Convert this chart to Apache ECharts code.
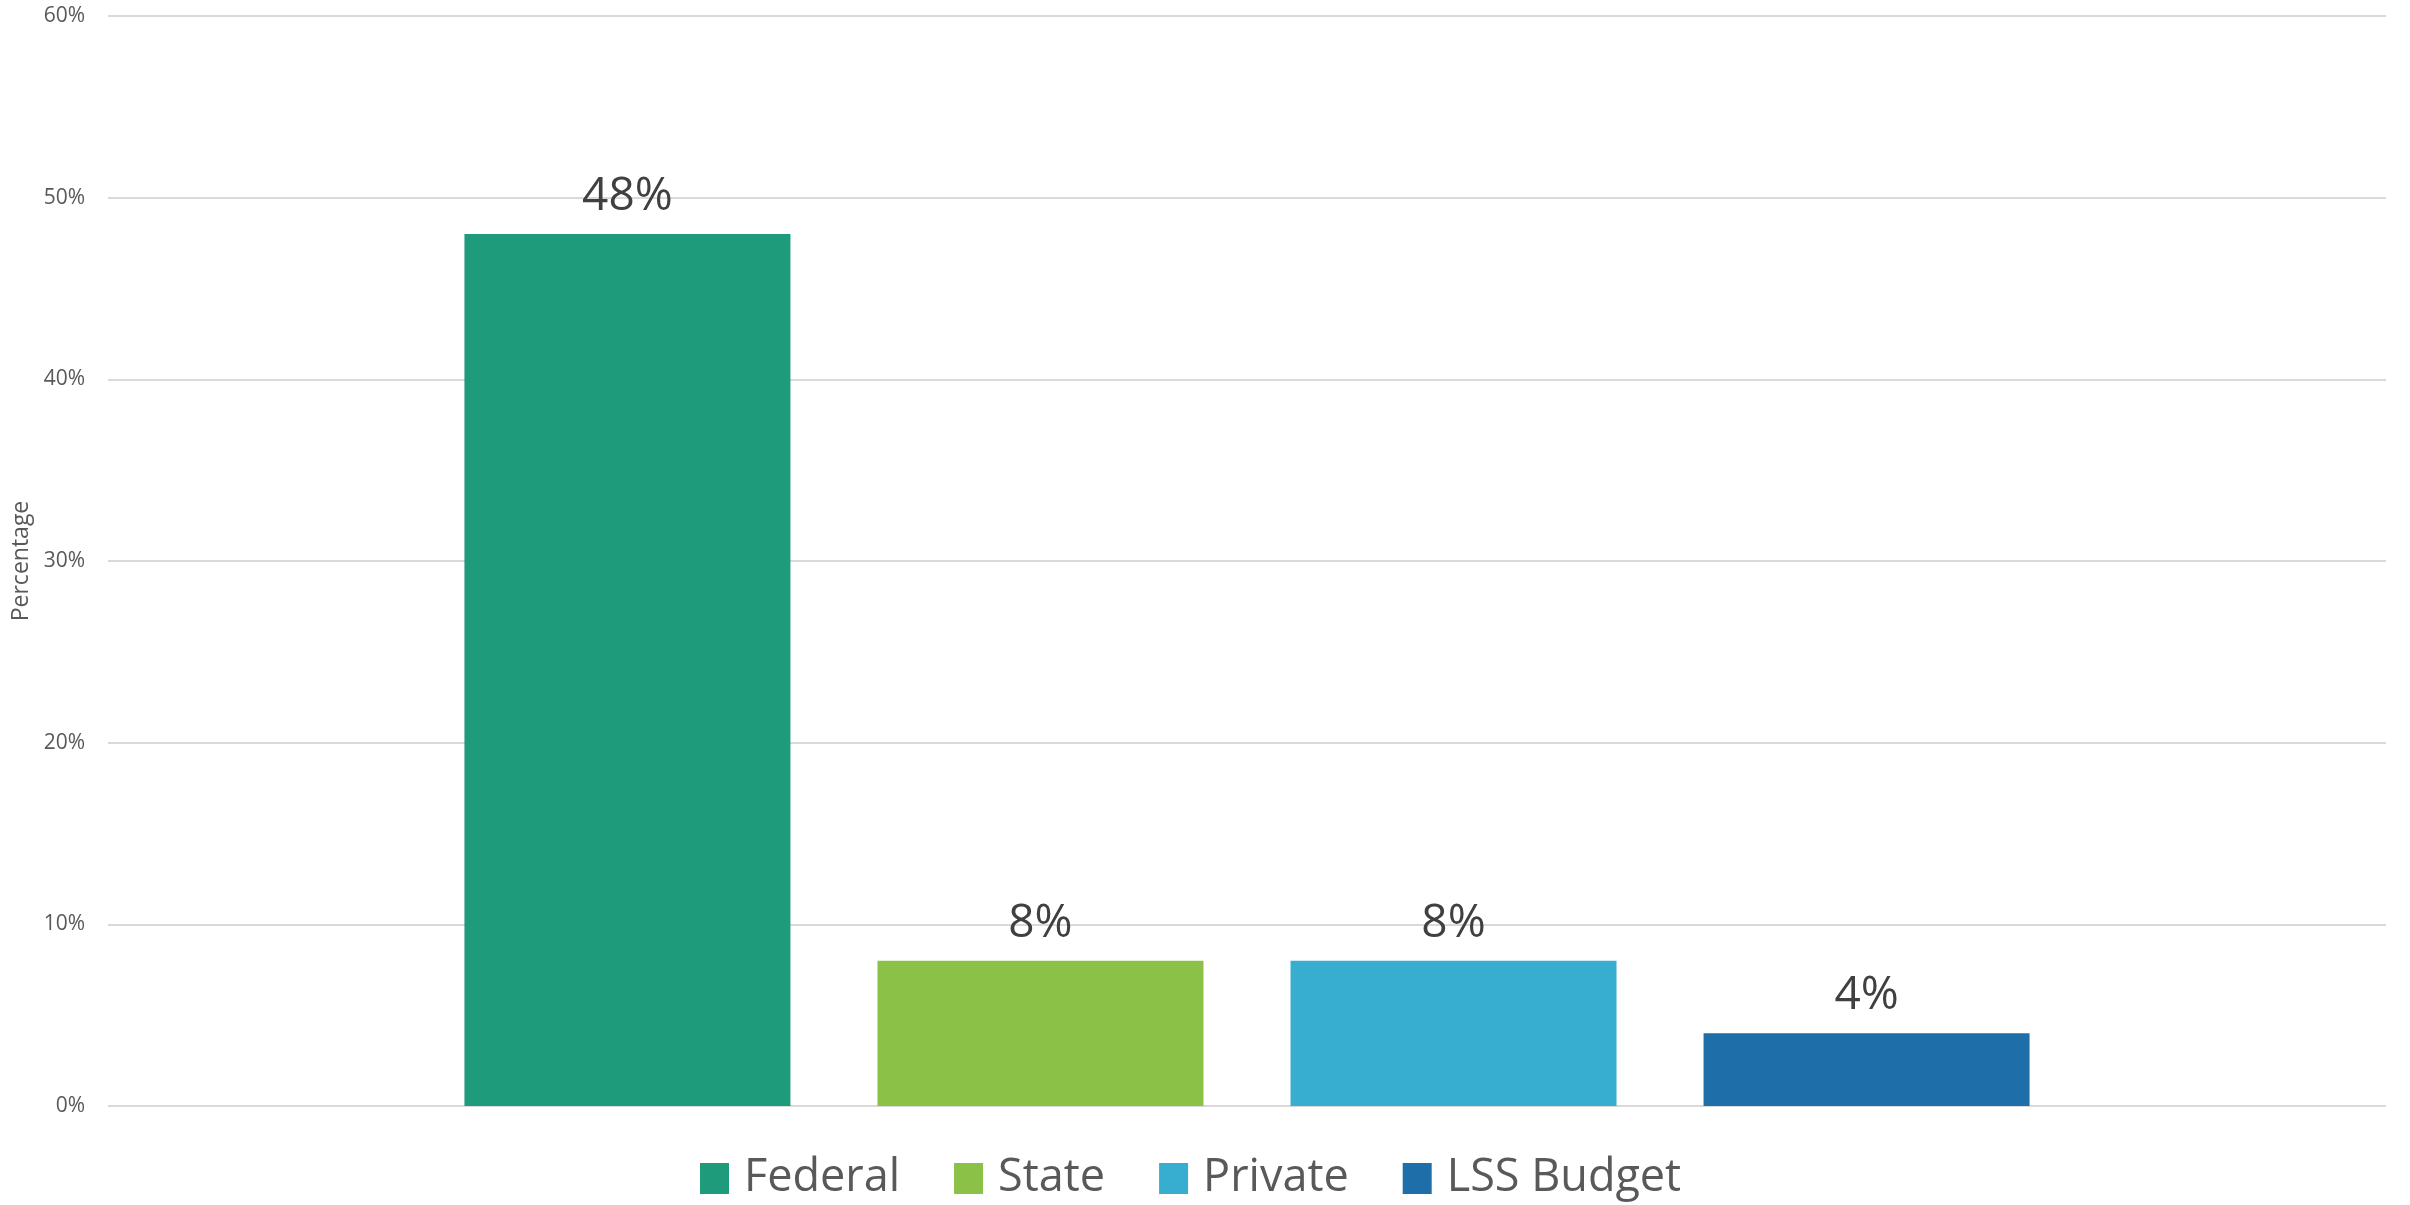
<!DOCTYPE html>
<html>
<head>
<meta charset="utf-8">
<script src="https://cdn.jsdelivr.net/npm/echarts@6/dist/echarts.min.js"></script>
<style>
  html, body { margin: 0; padding: 0; background: #ffffff; }
  #chart { width: 2410px; height: 1205px; }
</style>
</head>
<body>
<div id="chart"></div>
<script>
// funding sources, one category with a bar per source
const categories = [''];
const seriesNames = ['Federal', 'State', 'Private', 'LSS Budget'];
const seriesValues = [48, 8, 8, 4];
const seriesColors = ['#1e9b7b', '#8bc146', '#37aecf', '#1e6ea9'];
const yTicks = [0, 10, 20, 30, 40, 50, 60];

const chart = echarts.init(document.getElementById('chart'));

let series = [];
for (let i = 0; i < seriesNames.length; i++) {
  series.push({
    name: seriesNames[i],
    type: 'bar',
    data: [seriesValues[i]],
    barWidth: 326,
    barGap: '26.7%',
    itemStyle: { color: seriesColors[i] },
    label: {
      show: true,
      position: 'top',
      distance: 14,
      formatter: '{c}%',
      fontFamily: 'Open Sans',
      fontSize: 46,
      color: '#404040'
    }
  });
}

const option = {
  backgroundColor: '#ffffff',
  animation: false,
  grid: {
    left: 108,
    right: 24,
    top: 16,
    bottom: 99
  },
  legend: {
    data: seriesNames,
    left: 695,
    top: 1151,
    icon: 'rect',
    itemWidth: 29,
    itemHeight: 31,
    itemGap: 54,
    textStyle: {
      fontFamily: 'Open Sans',
      fontSize: 45,
      color: '#595959',
      padding: [0, 0, 0, 10]
    }
  },
  xAxis: {
    type: 'category',
    data: categories,
    axisLine: { show: false },
    axisTick: { show: false },
    axisLabel: { show: false }
  },
  yAxis: {
    type: 'value',
    min: yTicks[0],
    max: yTicks[yTicks.length - 1],
    interval: yTicks[1] - yTicks[0],
    name: 'Percentage',
    nameLocation: 'middle',
    nameGap: 74,
    nameTextStyle: {
      fontFamily: 'Open Sans',
      fontSize: 23,
      color: '#595959'
    },
    axisLine: { show: false },
    axisTick: { show: false },
    axisLabel: {
      formatter: '{value}%',
      fontFamily: 'Open Sans',
      fontSize: 21,
      color: '#595959',
      margin: 23
    },
    splitLine: {
      lineStyle: { color: '#d9d9d9', width: 2 }
    }
  },
  series: series
};

chart.setOption(option);
</script>
</body>
</html>
